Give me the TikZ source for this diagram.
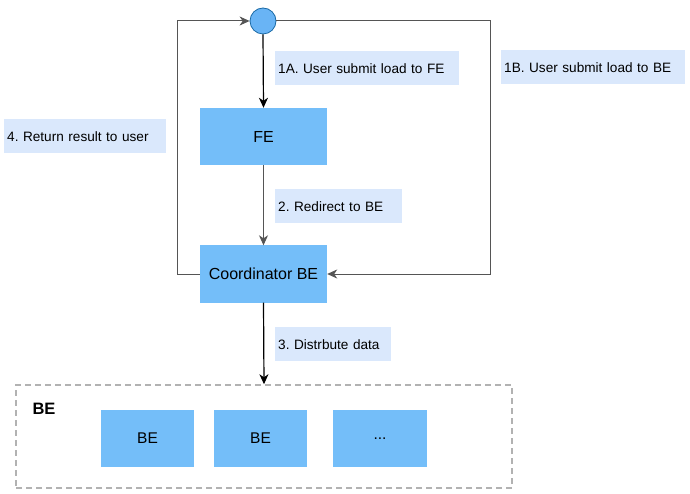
\documentclass[tikz,border=0pt]{standalone}
\usepackage{fontspec}
\setmainfont{Liberation Sans}
\usetikzlibrary{arrows.meta,positioning}
\definecolor{boxblue}{RGB}{116,190,249}
\definecolor{dotblue}{RGB}{105,180,245}
\definecolor{dotedge}{RGB}{25,105,165}
\definecolor{notefill}{RGB}{218,232,252}
\definecolor{linegrey}{RGB}{85,85,85}
\definecolor{dashgrey}{RGB}{178,178,178}
\frenchspacing

\begin{document}
\begin{tikzpicture}[x=1pt, y=-1pt,
    every node/.style={font=\fontsize{13.6}{16}\selectfont},
    unit/.style={fill=boxblue, minimum width=127pt, minimum height=57pt, inner sep=0pt, font=\fontsize{16}{18}\selectfont},
    worker/.style={fill=boxblue, minimum width=93pt, minimum height=57pt, inner sep=0pt, font=\fontsize{15.5}{18}\selectfont},
    note/.style={fill=notefill, anchor=north west, inner xsep=3pt, inner ysep=0pt, minimum height=34pt, align=left},
    flow/.style={-{Stealth[length=10pt,width=9pt,inset=3pt]}, line width=1pt, linegrey},
    flowdark/.style={-{Stealth[length=10pt,width=9pt,inset=3pt]}, line width=1.2pt, black}]
        \useasboundingbox (0,0) rectangle (690,494);
        % User point
        \node[circle, fill=dotblue, draw=dotedge, line width=0.8pt, minimum size=26pt, inner sep=0pt] (user) at (263,21) {};
        % FE and coordinator
        \node[unit] (fe) at (263.5,136.5) {FE};
        \node[unit] (coord) at (263.5,274) {Coordinator BE};
        % BE group
        \node[draw=dashgrey, line width=1.5pt, dash pattern=on 6pt off 4pt, minimum width=496pt, minimum height=103pt, inner sep=0pt] (group) at (264,436.5) {};
        \node[font=\bfseries\fontsize{16.5}{18}\selectfont] (grouptitle) at (44,409) {BE};
        \node[worker] (be1) at (147.5,438.5) {BE};
        \node[worker] (be2) at (260.5,438.5) {BE};
        \node[worker, minimum width=94pt] (be3) at (380,438.5) {...};
        % Notes
        \node[note, text width=178pt] (n1a) at (275,51) {1A. User submit load to FE};
        \node[note, text width=178pt] (n1b) at (501,50) {1B. User submit load to BE};
        \node[note, text width=156pt] (n4) at (4,119) {4. Return result to user};
        \node[note, text width=121pt] (n2) at (275,189) {2. Redirect to BE};
        \node[note, text width=110pt] (n3) at (275,327) {3. Distrbute data};
        % Corners of the loops
        \coordinate (rightcorner) at (490,274);
        \coordinate (leftcorner) at (177,21);
        % Connectors
        \draw[flowdark] (user.south) -- (fe.north);
        \draw[flow] (fe.south) -- (coord.north);
        \draw[flowdark] (coord.south) -- (group.north);
        \draw[flow] (user.east) -| (rightcorner) -- (coord.east);
        \draw[flow] (coord.west) -| (leftcorner) -- (user.west);
      \end{tikzpicture}
\end{document}
